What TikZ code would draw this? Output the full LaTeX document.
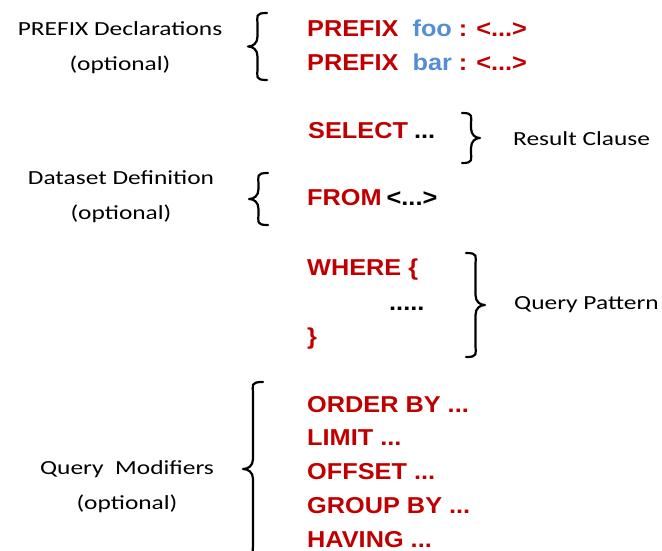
\documentclass[tikz,border=0pt]{standalone}
\usepackage{fontspec}
\setmainfont{Carlito}[FakeStretch=1.27]
\newfontfamily\codefont{Liberation Sans}[FakeStretch=1.1]
\definecolor{kwred}{RGB}{192,0,0}
\definecolor{nsblue}{RGB}{85,142,213}

% curly brace: #1 x of the curled ends, #2 top y, #3 bottom y,
% #4 signed half-depth (negative points left, positive points right)
\newcommand{\qbrace}[4]{%
  \pgfmathsetmacro\bmid{(#2+#3)/2}%
  \pgfmathsetmacro\bvert{#1+(#4)}%
  \pgfmathsetmacro\btip{#1+2*(#4)}%
  \pgfmathsetmacro\bnear{#1+1.5*(#4)}%
  \pgfmathsetmacro\bcurl{#1+1.3*(#4)}%
  \draw[bracestroke] (#1,#2) .. controls (\bcurl,#2) and (\bvert,#2+3) .. (\bvert,#2+12)
    -- (\bvert,\bmid-10) .. controls (\bvert,\bmid-3) and (\bnear,\bmid) .. (\btip,\bmid)
    .. controls (\bnear,\bmid) and (\bvert,\bmid+3) .. (\bvert,\bmid+10)
    -- (\bvert,#3-12) .. controls (\bvert,#3-3) and (\bcurl,#3) .. (#1,#3);}

\begin{document}
\begin{tikzpicture}[x=1pt,y=-1pt,
  lbl/.style={font=\fontsize{20}{35}\selectfont, align=center, text=black, inner sep=0},
  side/.style={font=\fontsize{20}{24}\selectfont, text=black, anchor=west, inner sep=0},
  code/.style={font=\codefont\bfseries\fontsize{23}{27}\selectfont, text=kwred, anchor=base west, inner sep=0},
  bracestroke/.style={line width=2.2pt, line cap=round, line join=round}]
\useasboundingbox (0,0) rectangle (662,551);
\clip (0,0) rectangle (662,551);

% left-hand captions
\node[lbl] (prefixlbl) at (120,48) {PREFIX Declarations\\(optional)};
\node[lbl] (datalbl) at (121,197) {Dataset Definition\\(optional)};
\node[lbl] (modlbl) at (127,487) {Query\ \ Modifiers\\(optional)};

% query skeleton
\node[code] (pfx1) at (307,37) {PREFIX\hspace{14pt}\textcolor{nsblue}{foo}\hspace{7pt}:\hspace{9pt}<...>};
\node[code] (pfx2) at (307,71) {PREFIX\hspace{14pt}\textcolor{nsblue}{bar}\hspace{7pt}:\hspace{9pt}<...>};
\node[code] (sel) at (308,139) {SELECT\hspace{6pt}{\color{black}...}};
\node[code] (from) at (307,205) {FROM\hspace{5pt}{\color{black}<...>}};
\node[code] (where) at (307,275) {WHERE \{};
\node[code, text=black] (body) at (389,310) {.....};
\node[code] (close) at (307,344) {\}};
\node[code] (order) at (307,412) {ORDER BY ...};
\node[code] (limit) at (307,445) {LIMIT ...};
\node[code] (offset) at (307,479) {OFFSET ...};
\node[code] (group) at (307,513) {GROUP BY ...};
\node[code] (having) at (307,547) {HAVING ...};

% right-hand captions
\node[side] (reslbl) at (513,139) {Result Clause};
\node[side] (patlbl) at (514,305) {Query Pattern};

% braces grouping the clauses
\qbrace{267}{13}{80}{-9.5}
\qbrace{462}{113}{163}{9}
\qbrace{268}{173}{225}{-9.5}
\qbrace{466}{253}{357}{9.5}
\qbrace{263}{382}{556}{-10}
\end{tikzpicture}
\end{document}
